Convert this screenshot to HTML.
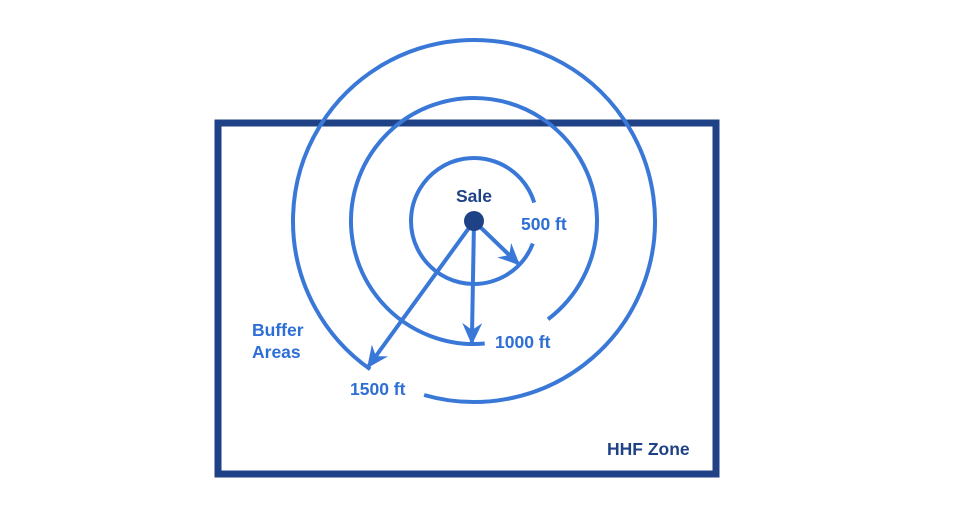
<!DOCTYPE html>
<html><head><meta charset="utf-8"><style>
html,body{margin:0;padding:0;background:#fff;width:955px;height:509px;overflow:hidden}
text{font-family:"Liberation Sans",Arial,sans-serif;font-weight:bold;font-size:17.5px}
</style></head><body>
<svg id="svg" width="955" height="509">
<defs>
<marker id="ah2" markerWidth="24" markerHeight="24" refX="20" refY="12" orient="auto" markerUnits="userSpaceOnUse"><path d="M0,2 L22,12 L0,22 L7,12 Z" fill="#3a78d8"/></marker></defs>
<rect x="218" y="123" width="498" height="351" fill="none" stroke="#1f4286" stroke-width="7"/>
<g id="rings"></g>
<circle cx="474" cy="221" r="10" fill="#1f4286"/>
<text x="474" y="202" text-anchor="middle" fill="#1f4286">Sale</text>
<text x="521" y="230" fill="#2e6fd6">500 ft</text>
<text x="495" y="348" fill="#2e6fd6">1000 ft</text>
<text x="350" y="395" fill="#2e6fd6">1500 ft</text>
<text x="252" y="336" fill="#2e6fd6">Buffer</text>
<text x="252" y="358" fill="#2e6fd6">Areas</text>
<text x="607" y="455" fill="#1f4286">HHF Zone</text>
</svg>
<script>
const radii=[63,123,181];
const gapStart=[21,85,125];
const gapEnd=[343,413,466];
const arrowAngle=[44,91,126];
const cx=474,cy=221;
const g=document.getElementById('rings');
const NS='http://www.w3.org/2000/svg';
function pt(r,a){const t=a*Math.PI/180;return [cx+r*Math.cos(t),cy+r*Math.sin(t)];}
radii.forEach((r,i)=>{
  const [x1,y1]=pt(r,gapStart[i]),[x2,y2]=pt(r,gapEnd[i]);
  const large=(gapEnd[i]-gapStart[i])>180?1:0;
  const p=document.createElementNS(NS,'path');
  p.setAttribute('d',`M${x1},${y1} A${r},${r} 0 ${large} 1 ${x2},${y2}`);
  p.setAttribute('fill','none');p.setAttribute('stroke','#3a78d8');p.setAttribute('stroke-width','4');
  
  
  g.appendChild(p);
  const [ax,ay]=pt(r-1,arrowAngle[i]);
  const l=document.createElementNS(NS,'line');
  l.setAttribute('x1',cx);l.setAttribute('y1',cy);l.setAttribute('x2',ax);l.setAttribute('y2',ay);
  l.setAttribute('stroke','#3a78d8');l.setAttribute('stroke-width','4');l.setAttribute('marker-end','url(#ah2)');
  
  
  g.appendChild(l);
});
</script>
</body></html>
